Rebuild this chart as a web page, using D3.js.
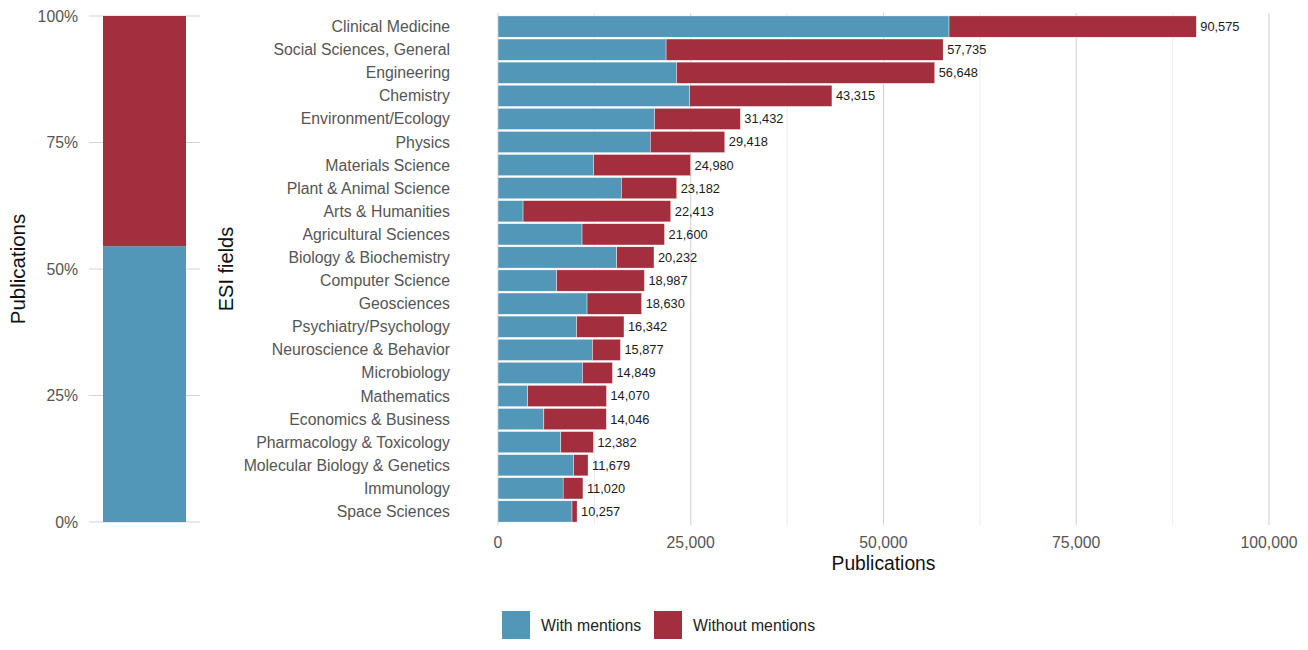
<!DOCTYPE html>
<html>
<head>
<meta charset="utf-8">
<script src="https://cdn.jsdelivr.net/npm/d3@7"></script>
<style>
  body { margin: 0; background: #fff; }
  svg { font-family: "Liberation Sans", Arial, sans-serif; }
</style>
</head>
<body>
<div id="chart"></div>
<script>
// --- DATA ---
const fields = [
    "Clinical Medicine", "Social Sciences, General", "Engineering", "Chemistry",
    "Environment/Ecology", "Physics", "Materials Science", "Plant & Animal Science",
    "Arts & Humanities", "Agricultural Sciences", "Biology & Biochemistry", "Computer Science",
    "Geosciences", "Psychiatry/Psychology", "Neuroscience & Behavior", "Microbiology",
    "Mathematics", "Economics & Business", "Pharmacology & Toxicology",
    "Molecular Biology & Genetics", "Immunology", "Space Sciences"
];
const totals = [90575, 57735, 56648, 43315, 31432, 29418, 24980, 23182, 22413, 21600, 20232,
    18987, 18630, 16342, 15877, 14849, 14070, 14046, 12382, 11679, 11020, 10257];
const withMentions = [58500, 21800, 23150, 24850, 20300, 19750, 12400, 16000, 3250, 10900, 15400,
    7600, 11550, 10200, 12250, 10950, 3850, 5950, 8150, 9800, 8450, 9600];
const overallShare = [0.545, 0.455]; // with, without
const seriesNames = ["With mentions", "Without mentions"];
const pctTicks = [0, 0.25, 0.5, 0.75, 1];
const countTicks = [0, 25000, 50000, 75000, 100000];

const colors = { "With mentions": "#5397b8", "Without mentions": "#a32e3d" };

// --- SETUP ---
const width = 1308, height = 650;
const svg = d3.select("#chart").append("svg")
    .attr("width", width)
    .attr("height", height);

const panelTop = 13, panelBottom = 525;
const barTop = 16, barBottom = 522;

// --- LEFT PANEL: overall share ---
const yPct = d3.scaleLinear().domain([0, 1]).range([barBottom, barTop]);
const left = svg.append("g");

left.append("g")
    .selectAll("line")
    .data(pctTicks)
    .join("line")
    .attr("x1", 89).attr("x2", 200)
    .attr("y1", d => yPct(d)).attr("y2", d => yPct(d))
    .attr("stroke", "#d4d4d4")
    .attr("stroke-width", 1.1);

const stackLeft = [
    { key: seriesNames[0], y0: 0, y1: overallShare[0] },
    { key: seriesNames[1], y0: overallShare[0], y1: overallShare[0] + overallShare[1] }
];
left.append("g")
    .selectAll("rect")
    .data(stackLeft)
    .join("rect")
    .attr("x", 103)
    .attr("width", 83)
    .attr("y", d => yPct(d.y1))
    .attr("height", d => yPct(d.y0) - yPct(d.y1))
    .attr("fill", d => colors[d.key]);

left.append("g")
    .selectAll("text")
    .data(pctTicks)
    .join("text")
    .attr("x", 78)
    .attr("y", d => yPct(d))
    .attr("dy", "0.35em")
    .attr("text-anchor", "end")
    .attr("fill", "#555")
    .attr("font-size", 15.8)
    .text(d3.format(".0%"));

left.append("text")
    .attr("transform", `translate(25,${(barTop + barBottom) / 2}) rotate(-90)`)
    .attr("text-anchor", "middle")
    .attr("fill", "#111")
    .attr("font-size", 20.5)
    .text("Publications");

// --- RIGHT PANEL: by field ---
const x = d3.scaleLinear().domain([0, 100000]).range([498, 1269]);
const y = d3.scaleBand().domain(fields).range([barTop - 1, barBottom + 1]).paddingInner(0.08).paddingOuter(0.04);
const right = svg.append("g");

const minorTicks = d3.range(12500, 100000, 25000);
right.append("g")
    .selectAll("line")
    .data(minorTicks)
    .join("line")
    .attr("x1", d => x(d)).attr("x2", d => x(d))
    .attr("y1", panelTop).attr("y2", panelBottom)
    .attr("stroke", "#ebebeb")
    .attr("stroke-width", 1);

right.append("g")
    .selectAll("line")
    .data(countTicks)
    .join("line")
    .attr("x1", d => x(d)).attr("x2", d => x(d))
    .attr("y1", panelTop).attr("y2", panelBottom)
    .attr("stroke", "#d4d4d4")
    .attr("stroke-width", 1.1);

const rows = fields.map((f, i) => ({ field: f, total: totals[i], with: withMentions[i] }));
const segs = rows.flatMap(d => [
    { field: d.field, key: seriesNames[0], x0: 0, x1: d.with },
    { field: d.field, key: seriesNames[1], x0: d.with, x1: d.total }
]);

right.append("g")
    .selectAll("rect")
    .data(segs)
    .join("rect")
    .attr("x", d => x(d.x0))
    .attr("width", d => x(d.x1) - x(d.x0))
    .attr("y", d => y(d.field))
    .attr("height", y.bandwidth())
    .attr("fill", d => colors[d.key])
    .attr("stroke", "#fff")
    .attr("stroke-width", 0.4);

right.append("g")
    .selectAll("text")
    .data(rows)
    .join("text")
    .attr("x", d => x(d.total) + 4)
    .attr("y", d => y(d.field) + y.bandwidth() / 2)
    .attr("dy", "0.35em")
    .attr("fill", "#1a1a1a")
    .attr("font-size", 12.8)
    .text(d => d3.format(",")(d.total));

// category labels
right.append("g")
    .selectAll("text")
    .data(fields)
    .join("text")
    .attr("x", 450)
    .attr("y", d => y(d) + y.bandwidth() / 2)
    .attr("dy", "0.35em")
    .attr("text-anchor", "end")
    .attr("fill", "#555")
    .attr("font-size", 15.8)
    .text(d => d);

right.append("text")
    .attr("transform", `translate(233,${(barTop + barBottom) / 2}) rotate(-90)`)
    .attr("text-anchor", "middle")
    .attr("fill", "#111")
    .attr("font-size", 20)
    .text("ESI fields");

// x tick labels
right.append("g")
    .selectAll("text")
    .data(countTicks)
    .join("text")
    .attr("x", d => x(d))
    .attr("y", 542)
    .attr("dy", "0.35em")
    .attr("text-anchor", "middle")
    .attr("fill", "#555")
    .attr("font-size", 15.8)
    .text(d3.format(","));

right.append("text")
    .attr("x", (x(0) + x(100000)) / 2)
    .attr("y", 563)
    .attr("dy", "0.35em")
    .attr("text-anchor", "middle")
    .attr("fill", "#111")
    .attr("font-size", 19.3)
    .text("Publications");

// --- LEGEND ---
const legend = svg.append("g").attr("transform", "translate(502,611)");
const legendX = [0, 152];
const item = legend.selectAll("g")
    .data(seriesNames)
    .join("g")
    .attr("transform", (d, i) => `translate(${legendX[i]},0)`);
item.append("rect")
    .attr("width", 28)
    .attr("height", 28)
    .attr("fill", d => colors[d]);
item.append("text")
    .attr("x", 39)
    .attr("y", 14)
    .attr("dy", "0.35em")
    .attr("fill", "#222")
    .attr("font-size", 15.8)
    .text(d => d);
</script>
</body>
</html>
